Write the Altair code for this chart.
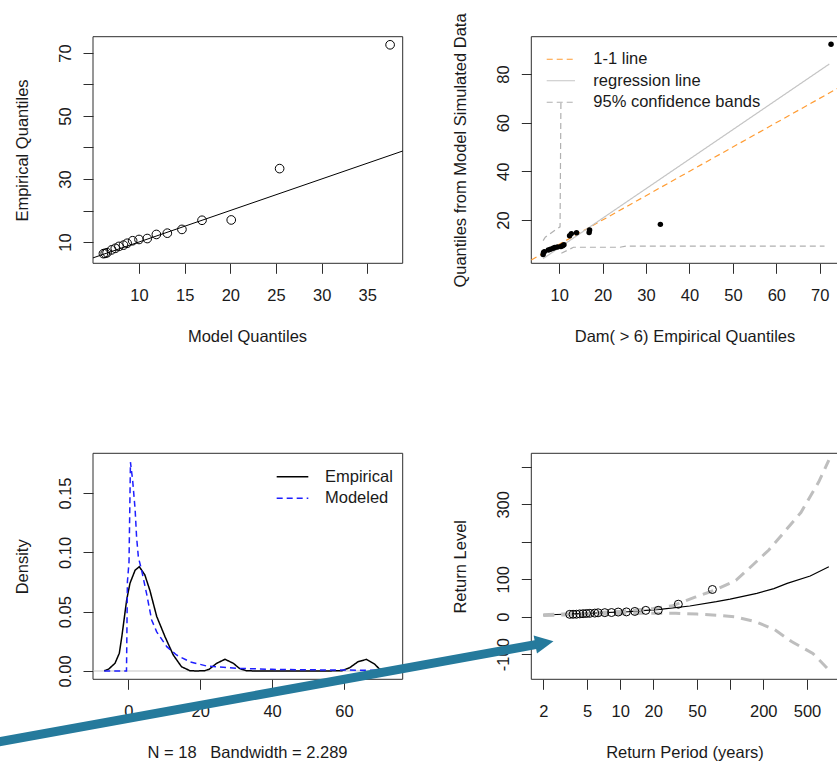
import altair as alt
import pandas as pd

W, H = 837, 764
FONT = "Liberation Sans"
FS = 16.5
INK = "#2e2e2e"
TXT = "#1a1a1a"
ARROW = "#257A9C"

# ---------------- values ----------------
# top left: quantile-quantile plot (18 exceedances)
model_q = [6.1, 6.3, 6.5, 7.0, 7.4, 7.8, 8.3, 8.7, 9.3, 10.0, 10.9, 11.9, 13.1, 14.7, 16.9, 20.1, 25.4, 37.5]
empirical_q = [6.3, 6.4, 6.6, 7.5, 8.0, 8.6, 9.0, 9.6, 10.4, 10.8, 11.1, 12.4, 12.8, 14.0, 16.9, 17.0, 33.3, 72.6]
tl_line_x = [4.96, 38.88]
tl_line_y = [4.96, 38.88]

# top right: simulated-data quantiles against empirical quantiles
simulated_q = [5.8, 6.6, 7.0, 7.7, 8.0, 8.4, 8.7, 8.9, 9.1, 9.4, 9.8, 13.5, 14.4, 14.8, 14.9, 15.9, 18.2, 92.2]
oneone_x = [3.58, 74.2]
oneone_y = [3.58, 74.2]
reg_x = [6.3, 72.2]
reg_y = [4.1, 84.1]
band_up_x = [6.3, 6.8, 9.1, 10.2, 10.4]
band_up_y = [11.5, 12.9, 15.9, 17.2, 68.6]
band_lo_x = [10.5, 13.3, 24.0, 25.5, 71.1]
band_lo_y = [6.3, 8.8, 8.8, 9.3, 9.3]
tr_series = ["1-1 line", "regression line", "95% confidence bands"]

# bottom left: density curves
dens_emp_x = [-6.7, -5.5, -3.7, -2.5, -1.8, -0.45, 0.47, 1.9, 3.06, 4.6, 6.0, 7.9, 10.2, 12.5, 14.8, 17.1,
              19.0, 21.3, 22.5, 24.6, 26.9, 29.2, 31.0, 32.8, 35.0, 45.0, 55.0, 59.5, 61.6, 63.9, 66.2,
              68.5, 69.9, 71.5, 73.5]
dens_emp_y = [0.0002, 0.0015, 0.0065, 0.015, 0.029, 0.060, 0.074, 0.085, 0.0879, 0.081, 0.068, 0.046,
              0.029, 0.0135, 0.0036, 0.0003, 0.0, 0.0003, 0.0015, 0.0065, 0.0099, 0.0065, 0.002, 0.0003,
              0.0, 0.0, 0.0, 0.0003, 0.0028, 0.0078, 0.0098, 0.0059, 0.0015, 0.0002, 0.0]
dens_mod_x = [-6.7, -0.5, -0.4, -0.25, 0.2, 0.6, 1.2, 1.9, 2.3, 2.8, 3.7, 5.1, 6.5, 7.9, 10.7, 13.4, 17.1,
              21.8, 26.4, 31.0, 40.0, 50.0, 60.0, 70.0, 73.5]
dens_mod_y = [0.0, 0.0, 0.03, 0.075, 0.092, 0.176, 0.161, 0.136, 0.113, 0.096, 0.085, 0.065, 0.043, 0.033,
              0.0205, 0.0135, 0.0078, 0.0042, 0.0031, 0.0022, 0.0014, 0.0010, 0.0008, 0.0006, 0.0005]
zero_x = [-9.82, 76.33]
zero_y = [0.0, 0.0]
bl_series = ["Empirical", "Modeled"]

# bottom right: return level plot
return_period = [3.48, 3.73, 4.0, 4.29, 4.6, 4.94, 5.3, 5.88, 6.3, 7.25, 8.35, 9.6, 11.4, 13.6, 17.1, 22.2, 33.8, 69.0]
rl_x = [2, 3.5, 6, 12, 23, 43, 75, 100, 175, 250, 330, 535, 790]
rl_y = [4.5, 7.2, 9.8, 13.4, 19.7, 28.6, 40, 47, 62.4, 75, 89, 108.6, 133.4]
rl_up_x = [2, 5, 10, 20, 30, 48, 73, 113, 158, 225, 315, 440, 640, 790]
rl_up_y = [5.5, 9.5, 14.5, 22, 29, 52, 71, 97, 136, 178, 228, 278, 360, 418]
rl_lo_x = [2, 5, 10, 20, 32, 50, 75, 110, 170, 255, 365, 565, 790]
rl_lo_y = [3.5, 5.5, 8, 9.5, 9, 7, 4, 0, -13, -35, -67, -98, -142]

# annotation arrow (page pixels)
arrow_x = [-20, 541]
arrow_y = [745.3, 643.6]
arrow_head_x = [544.4]
arrow_head_y = [642.9]

# ---------------- panel geometry ----------------
P = {
    "tl": dict(xd=[4.96, 38.88], xr=[93, 402.7], yd=[3.24, 75.17], yr=[263.3, 36.7], xt="linear"),
    "tr": dict(xd=[3.58, 74.2], xr=[531.3, 838], yd=[2.2, 95.33], yr=[263.3, 36.7], xt="linear"),
    "bl": dict(xd=[-9.82, 76.33], xr=[93, 402.7], yd=[-0.007, 0.1835], yr=[679.3, 453.3], xt="linear"),
    "br": dict(xd=[1.556, 957], xr=[531.3, 838], yd=[-167.1, 436.1], yr=[679.3, 453.3], xt="log"),
}


def xs(p):
    if p["xt"] == "log":
        return alt.Scale(type="log", domain=p["xd"], range=p["xr"], nice=False)
    return alt.Scale(domain=p["xd"], range=p["xr"], nice=False, zero=False)


def ys(p):
    return alt.Scale(domain=p["yd"], range=p["yr"], nice=False, zero=False)


def x_axis(p, values, title, title_x, fmt="d", label_expr=None):
    kw = dict(orient="bottom", offset=p["yr"][0] - H, values=values, format=fmt, title=title,
              grid=False, domain=False, ticks=True, tickSize=10, tickColor=INK, tickWidth=1,
              labelFont=FONT, labelFontSize=FS, labelColor=TXT, labelPadding=27,
              labelBaseline="alphabetic", labelAlign="center", labelAngle=0, labelFlush=False,
              labelOverlap=False, titleFont=FONT, titleFontSize=FS, titleFontWeight="normal",
              titleColor=TXT, titleX=title_x, titleY=72.7, titleAlign="center",
              titleBaseline="middle", titleAngle=0)
    if label_expr:
        kw["labelExpr"] = label_expr
    return alt.Axis(**kw)


def y_axis(p, values, title, fmt="d", label_expr=None):
    kw = dict(orient="left", offset=-p["xr"][0], values=values, format=fmt, title=title,
              grid=False, domain=False, ticks=True, tickSize=10, tickColor=INK, tickWidth=1,
              labelFont=FONT, labelFontSize=FS, labelColor=TXT, labelPadding=13,
              labelBaseline="alphabetic", labelAlign="center", labelAngle=270, labelFlush=False,
              labelOverlap=False, titleFont=FONT, titleFontSize=FS, titleFontWeight="normal",
              titleColor=TXT, titleX=-70.6, titleY=(p["yr"][0] + p["yr"][1]) / 2,
              titleAlign="center", titleBaseline="middle", titleAngle=270)
    if label_expr:
        kw["labelExpr"] = label_expr
    return alt.Axis(**kw)


def frame(p, xa, ya):
    df = pd.DataFrame({"x": [p["xd"][0]], "x1": [p["xd"][1]], "y": [p["yd"][0]], "y1": [p["yd"][1]]})
    return alt.Chart(df).mark_rect(fill="transparent", stroke=INK, strokeWidth=1).encode(
        x=alt.X("x:Q", scale=xs(p), axis=xa), x2="x1:Q",
        y=alt.Y("y:Q", scale=ys(p), axis=ya), y2="y1:Q")


def xy(p, xa, ya):
    return dict(x=alt.X("x:Q", scale=xs(p), axis=xa), y=alt.Y("y:Q", scale=ys(p), axis=ya))


# ---------------- top left ----------------
p = P["tl"]
xa = x_axis(p, [10, 15, 20, 25, 30, 35], "Model Quantiles", 247)
ya = y_axis(p, [10, 20, 30, 40, 50, 60, 70], "Empirical Quantiles",
            label_expr="datum.value % 20 == 10 ? datum.label : ''")
tl = alt.layer(
    frame(p, xa, ya),
    alt.Chart(pd.DataFrame({"x": tl_line_x, "y": tl_line_y})).mark_line(
        color="black", strokeWidth=1).encode(**xy(p, xa, ya)),
    alt.Chart(pd.DataFrame({"x": model_q, "y": empirical_q})).mark_point(
        shape="circle", filled=False, color="black", strokeWidth=1, size=75, opacity=1).encode(**xy(p, xa, ya)),
)

# ---------------- top right ----------------
p = P["tr"]
xa = x_axis(p, [10, 20, 30, 40, 50, 60, 70], "Dam( > 6) Empirical Quantiles", 684.5)
ya = y_axis(p, [20, 40, 60, 80], "Quantiles from Model Simulated Data")
tr_lines = pd.concat([
    pd.DataFrame({"x": oneone_x, "y": oneone_y, "series": tr_series[0], "seg": "a"}),
    pd.DataFrame({"x": reg_x, "y": reg_y, "series": tr_series[1], "seg": "b"}),
    pd.DataFrame({"x": band_up_x, "y": band_up_y, "series": tr_series[2], "seg": "c"}),
    pd.DataFrame({"x": band_lo_x, "y": band_lo_y, "series": tr_series[2], "seg": "d"}),
])
leg_tr = alt.Legend(title=None, orient="none", legendX=552.6, legendY=51, symbolType="M-2,0H2",
                    symbolSize=200, symbolStrokeWidth=1.2, labelFont=FONT, labelFontSize=FS,
                    labelColor=TXT, labelOffset=24.2, labelLimit=500, rowPadding=4.5, padding=0)
tr = alt.layer(
    frame(p, xa, ya),
    alt.Chart(tr_lines).mark_line(strokeWidth=1.2).encode(
        **xy(p, xa, ya),
        color=alt.Color("series:N", scale=alt.Scale(domain=tr_series, range=["#FF9C33", "#C4C4C4", "#B0B0B0"]),
                        legend=leg_tr),
        strokeDash=alt.StrokeDash("series:N", scale=alt.Scale(domain=tr_series, range=[[6, 4], [1, 0], [6, 4]]),
                                  legend=leg_tr),
        detail="seg:N"),
    alt.Chart(pd.DataFrame({"x": empirical_q, "y": simulated_q})).mark_circle(
        color="black", size=30, opacity=1).encode(**xy(p, xa, ya)),
)

# ---------------- bottom left ----------------
p = P["bl"]
xa = x_axis(p, [0, 20, 40, 60], "N = 18\u00a0\u00a0\u00a0Bandwidth = 2.289", 247)
ya = y_axis(p, [0, 0.05, 0.10, 0.15], "Density", fmt=".2f")
bl_lines = pd.concat([
    pd.DataFrame({"x": dens_emp_x, "y": dens_emp_y, "series": bl_series[0]}),
    pd.DataFrame({"x": dens_mod_x, "y": dens_mod_y, "series": bl_series[1]}),
])
leg_bl = alt.Legend(title=None, orient="none", legendX=283.5, legendY=467.7, symbolType="M-2,0H2",
                    symbolSize=250, symbolStrokeWidth=1.5, labelFont=FONT, labelFontSize=FS,
                    labelColor=TXT, labelOffset=23.5, labelLimit=500, rowPadding=3.5, padding=0)
bl = alt.layer(
    frame(p, xa, ya),
    alt.Chart(pd.DataFrame({"x": zero_x, "y": zero_y})).mark_line(
        color="#C4C4C4", strokeWidth=1).encode(**xy(p, xa, ya)),
    alt.Chart(bl_lines).mark_line(strokeWidth=1.5).encode(
        **xy(p, xa, ya),
        color=alt.Color("series:N", scale=alt.Scale(domain=bl_series, range=["black", "#1F1FFF"]), legend=leg_bl),
        strokeDash=alt.StrokeDash("series:N", scale=alt.Scale(domain=bl_series, range=[[1, 0], [6, 4]]),
                                  legend=leg_bl)),
)

# ---------------- bottom right ----------------
p = P["br"]
xa = x_axis(p, [2, 5, 10, 20, 50, 100, 200, 500], "Return Period (years)", 684.5,
            label_expr="datum.value == 100 ? '' : datum.label")
ya = y_axis(p, [-100, 0, 100, 200, 300, 400], "Return Level",
            label_expr="(datum.value == 200 || datum.value == 400) ? '' : '' + datum.value")
br = alt.layer(
    frame(p, xa, ya),
    alt.Chart(pd.DataFrame({"x": rl_x, "y": rl_y})).mark_line(
        color="black", strokeWidth=1.2).encode(**xy(p, xa, ya)),
    alt.Chart(pd.DataFrame({"x": rl_up_x, "y": rl_up_y})).mark_line(
        color="#BEBEBE", strokeWidth=3, strokeDash=[11, 7]).encode(**xy(p, xa, ya)),
    alt.Chart(pd.DataFrame({"x": rl_lo_x, "y": rl_lo_y})).mark_line(
        color="#BEBEBE", strokeWidth=3, strokeDash=[11, 7]).encode(**xy(p, xa, ya)),
    alt.Chart(pd.DataFrame({"x": return_period, "y": empirical_q})).mark_point(
        shape="circle", filled=False, color="black", strokeWidth=1, size=64, opacity=1).encode(**xy(p, xa, ya)),
)

# ---------------- arrow annotation (page pixel space) ----------------
pxx = alt.Scale(domain=[0, W], range=[0, W], nice=False, zero=False)
pxy = alt.Scale(domain=[0, H], range=[0, H], nice=False, zero=False)
arrow = alt.layer(
    alt.Chart(pd.DataFrame({"x": arrow_x, "y": arrow_y})).mark_line(
        color=ARROW, strokeWidth=9, strokeCap="butt").encode(
        x=alt.X("x:Q", scale=pxx, axis=None), y=alt.Y("y:Q", scale=pxy, axis=None)),
    alt.Chart(pd.DataFrame({"x": arrow_head_x, "y": arrow_head_y})).mark_point(
        shape="M1,0L-1,-1L-1,1Z", size=340, filled=True, color=ARROW, opacity=1, angle=349.7).encode(
        x=alt.X("x:Q", scale=pxx, axis=None), y=alt.Y("y:Q", scale=pxy, axis=None)),
)

chart = alt.layer(tl, tr, bl, br, arrow).resolve_scale(
    x="independent", y="independent", color="independent", strokeDash="independent"
).resolve_axis(x="independent", y="independent").resolve_legend(
    color="independent", strokeDash="independent"
).properties(
    width=W, height=H, padding=0, background="white",
    autosize=alt.AutoSizeParams(type="none"),
).configure_view(strokeWidth=0)

chart.save("out.html", embed_options={"renderer": "svg", "actions": False})
